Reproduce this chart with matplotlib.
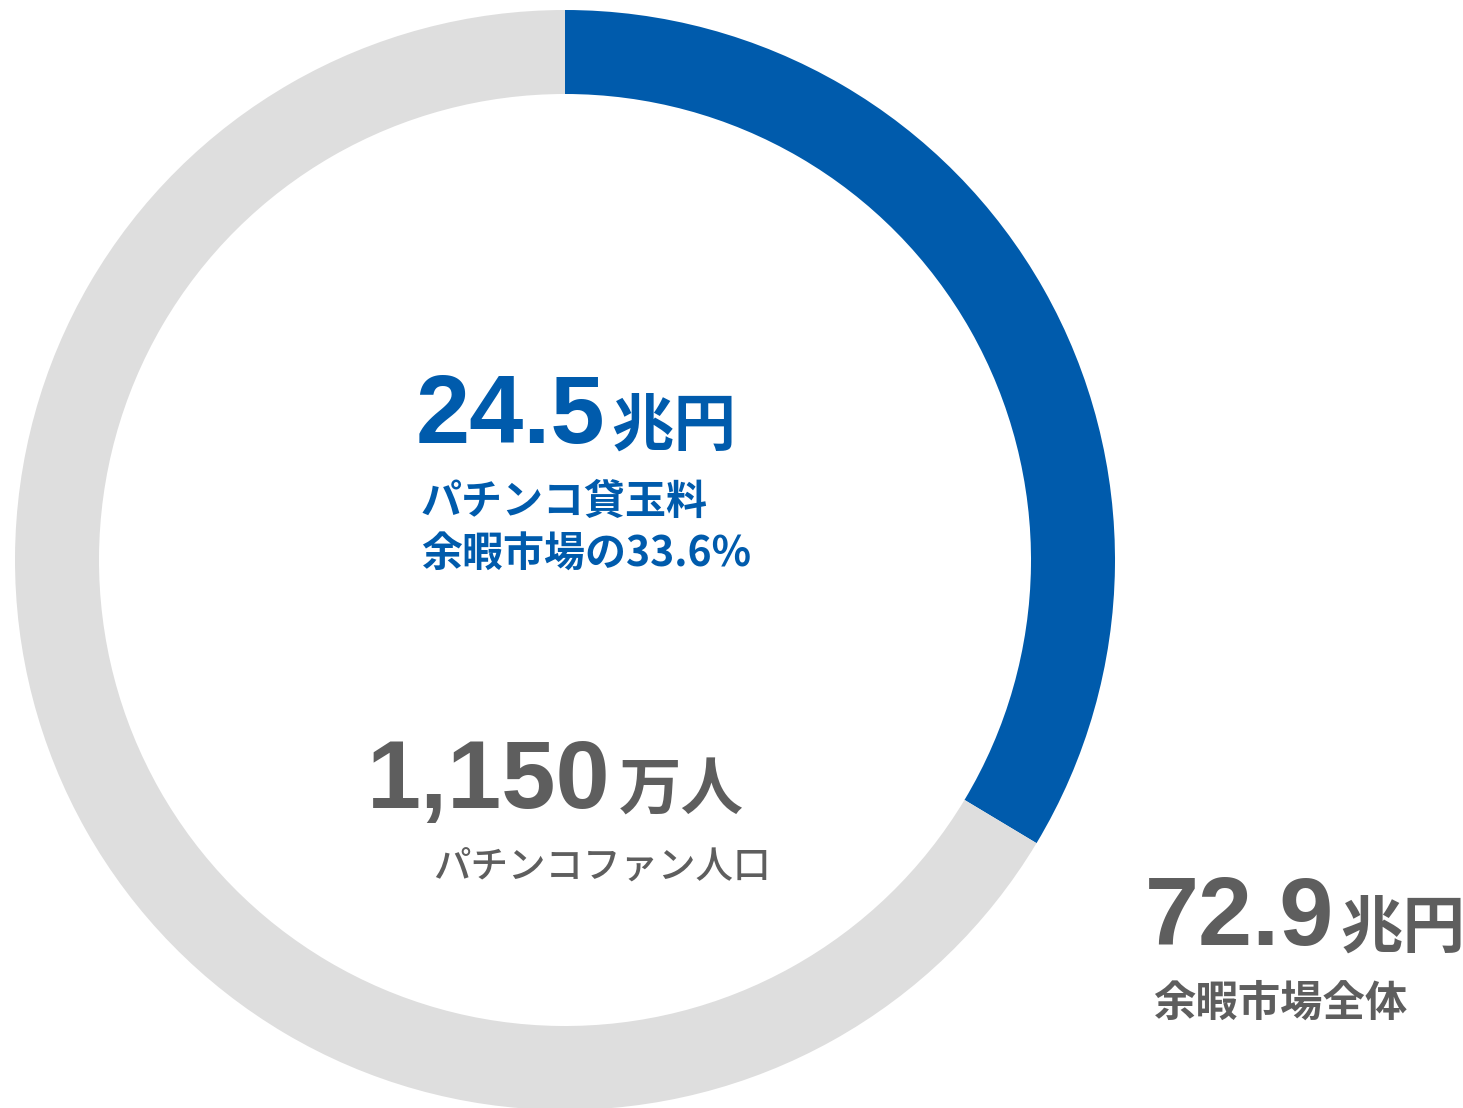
import matplotlib
matplotlib.use('Agg')
import matplotlib.pyplot as plt

# data
segments = ['パチンコ貸玉料', 'その他']
values = [24.5, 72.9 - 24.5]
seg_colors = ['#005BAC', '#DEDEDE']

BLUE = '#005BAC'
GRAY = '#5E5E5E'
W, H = 1463, 1108
JP = ['Noto Sans CJK JP', 'DejaVu Sans']
NUM = ['Liberation Sans', 'DejaVu Sans']

fig = plt.figure(figsize=(W / 100, H / 100), dpi=100)
ax = fig.add_axes([0, 0, 1, 1])

# donut ring, clockwise from the top
ax.pie(values, colors=seg_colors, startangle=90, counterclock=False,
       radius=550, center=(565, H - 560),
       wedgeprops=dict(width=84, linewidth=0))
ax.set_xlim(0, W)
ax.set_ylim(0, H)
ax.set_aspect('equal')
ax.axis('off')


def px(x, y):
    # pixel coords (top-left origin) -> data coords
    return x, H - y


def big_number(x, y, num, unit, color, gap=4):
    t = ax.text(*px(x, y), num, color=color, fontsize=70, fontweight='bold',
                family=NUM, ha='left', va='baseline')
    # unit sits right after the number on the same baseline
    ax.annotate(unit, xy=(1, H - y - 2), xycoords=(t, 'data'),
                xytext=(gap, 0), textcoords='offset points',
                color=color, fontsize=45, fontweight='bold', family=JP,
                ha='left', va='baseline')


# centre: market value of pachinko
big_number(416, 443, '24.5', '兆円', BLUE)
ax.text(*px(421, 514), 'パチンコ貸玉料', color=BLUE, fontsize=29.5,
        fontweight='bold', family=JP, ha='left', va='baseline')
ax.text(*px(421, 567), '余暇市場の33.6%', color=BLUE, fontsize=29.5,
        fontweight='bold', family=JP, ha='left', va='baseline')

# fan population
big_number(367, 808, '1,150', '万人', GRAY, gap=6)
ax.text(*px(433, 879), 'パチンコファン人口', color=GRAY, fontsize=27,
        fontweight='medium', family=JP, ha='left', va='baseline')

# whole leisure market
big_number(1145, 945, '72.9', '兆円', GRAY)
ax.text(*px(1153, 1016), '余暇市場全体', color=GRAY, fontsize=30.5,
        fontweight='bold', family=JP, ha='left', va='baseline')

fig.savefig('out.png', dpi=100, facecolor='white')
